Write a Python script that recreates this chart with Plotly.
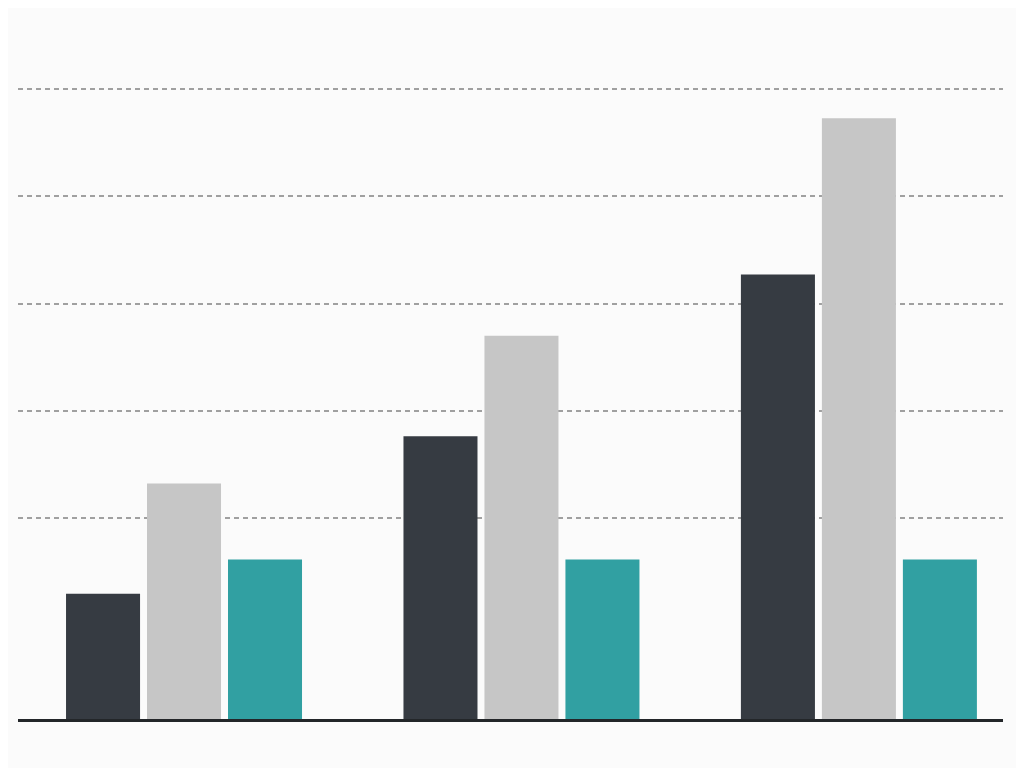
import plotly.graph_objects as go

# group positions and the three series (bar heights, one unit = one grid step)
groups = [0, 1, 2]
series_dark = [1.17, 2.64, 4.15]
series_gray = [2.20, 3.58, 5.61]
series_teal = [1.49, 1.49, 1.49]

grid_vals = [1.88, 2.88, 3.88, 4.88, 5.88]

fig = go.Figure()
fig.add_trace(go.Bar(x=groups, y=series_dark, marker_color="#363b42", marker_line_width=0))
fig.add_trace(go.Bar(x=groups, y=series_gray, marker_color="#c6c6c6", marker_line_width=0))
fig.add_trace(go.Bar(x=groups, y=series_teal, marker_color="#31a0a2", marker_line_width=0))

# page puts the figure 8px in from the corner, margins allow for that
fig.update_layout(
    width=1024, height=768,
    barmode="group", bargap=0.28, bargroupgap=0.086,
    showlegend=False,
    paper_bgcolor="#fbfbfb", plot_bgcolor="#fbfbfb",
    margin=dict(l=10, r=29, t=52, b=57),
)

# Hides ticks, keeps only the dashed grid
fig.update_yaxes(range=[0, 6.154], tickvals=grid_vals, showticklabels=False,
                 showgrid=True, gridcolor="#a0a0a0", gridwidth=1.5,
                 griddash="5px,4px", zeroline=False, showline=False)
fig.update_xaxes(range=[-0.492, 2.427], showticklabels=False, showgrid=False,
                 zeroline=False, showline=True, linecolor="#232629", linewidth=3,
                 ticks="")

fig.write_html("out.html")
